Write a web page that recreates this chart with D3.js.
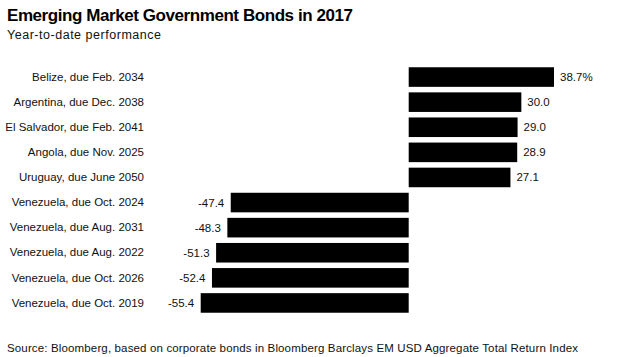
<!DOCTYPE html>
<html>
<head>
<meta charset="utf-8">
<script src="https://cdn.jsdelivr.net/npm/d3@7"></script>
<style>
  html, body { margin: 0; padding: 0; background: #fff; }
  svg { display: block; font-family: "Liberation Sans", Arial, sans-serif; }
</style>
</head>
<body>
<svg id="chart" width="640" height="357"></svg>
<script>
const categories = [
  "Belize, due Feb. 2034",
  "Argentina, due Dec. 2038",
  "El Salvador, due Feb. 2041",
  "Angola, due Nov. 2025",
  "Uruguay, due June 2050",
  "Venezuela, due Oct. 2024",
  "Venezuela, due Aug. 2031",
  "Venezuela, due Aug. 2022",
  "Venezuela, due Oct. 2026",
  "Venezuela, due Oct. 2019"
];
const values = [38.7, 30.0, 29.0, 28.9, 27.1, -47.4, -48.3, -51.3, -52.4, -55.4];
const valueLabels = ["38.7%", "30.0", "29.0", "28.9", "27.1", "-47.4", "-48.3", "-51.3", "-52.4", "-55.4"];
const titleText = "Emerging Market Government Bonds in 2017";
const subtitleText = "Year-to-date performance";
const sourceText = "Source: Bloomberg, based on corporate bonds in Bloomberg Barclays EM USD Aggregate Total Return Index";

const svg = d3.select("#chart");

const x = d3.scaleLinear().domain([-55.4, 38.7]).range([200.7, 554]);
const y = d3.scaleBand().domain(categories).range([64.5, 315.5]).paddingInner(0.22).paddingOuter(0.11);

function fit(sel, target) {
  const node = sel.node();
  const n = node.getNumberOfChars();
  const w = node.getComputedTextLength();
  if (n > 1) sel.attr("letter-spacing", ((target - w) / (n - 1)).toFixed(3));
}

// Title
const title = svg.append("text").attr("x", 7).attr("y", 20.7)
  .attr("font-size", 17).attr("font-weight", "bold").attr("fill", "#000")
  .text(titleText);
fit(title, 346);

const sub = svg.append("text").attr("x", 7).attr("y", 39)
  .attr("font-size", 12.5).attr("fill", "#111")
  .text(subtitleText);
fit(sub, 154);

// Bars
svg.append("g").selectAll("rect").data(values).join("rect")
  .attr("x", d => x(Math.min(0, d)))
  .attr("y", (d, i) => y(categories[i]))
  .attr("width", d => Math.abs(x(d) - x(0)))
  .attr("height", y.bandwidth())
  .attr("fill", "#000");

// Category labels
const yAxis = d3.axisLeft(y).tickSize(0).tickPadding(0);
const ag = svg.append("g").attr("transform", "translate(144,0)").call(yAxis);
ag.select(".domain").remove();
ag.selectAll("text").attr("font-size", 11.5).attr("fill", "#111")
  .attr("font-family", "Liberation Sans, Arial, sans-serif");

// Value labels
svg.append("g").selectAll("text").data(values).join("text")
  .attr("x", d => d >= 0 ? x(d) + 6 : x(d) - 6.5)
  .attr("y", (d, i) => y(categories[i]) + y.bandwidth() / 2)
  .attr("dy", "0.35em")
  .attr("text-anchor", d => d >= 0 ? "start" : "end")
  .attr("font-size", 11.5).attr("fill", "#111")
  .text((d, i) => valueLabels[i]);

// Source
const src = svg.append("text").attr("x", 7).attr("y", 352)
  .attr("font-size", 11.5).attr("fill", "#111")
  .text(sourceText);
fit(src, 571);
</script>
</body>
</html>
